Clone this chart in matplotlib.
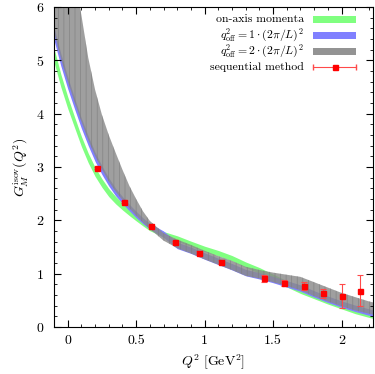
import matplotlib
matplotlib.use("Agg")
import matplotlib.pyplot as plt
from matplotlib.patches import Rectangle
from matplotlib.lines import Line2D

plt.rcParams['font.family'] = 'serif'
plt.rcParams['font.serif'] = ['cmr10', 'DejaVu Serif']
plt.rcParams['mathtext.fontset'] = 'cm'
plt.rcParams['axes.formatter.use_mathtext'] = True
plt.rcParams['hatch.linewidth'] = 0.5

# Q^2 nodes for the fit bands
q2 = [-0.1, -0.05, 0.0, 0.05, 0.1, 0.15, 0.2, 0.25, 0.3, 0.35, 0.4, 0.45, 0.5, 0.55,
      0.6, 0.7, 0.8, 0.9, 1.0, 1.1, 1.2, 1.3, 1.4, 1.5, 1.6, 1.7, 1.8, 1.9, 2.0,
      2.1, 2.2, 2.25]

# on-axis momenta (centre, half width)
green_c = [5.10, 4.62, 4.21, 3.84, 3.48, 3.17, 2.91, 2.70, 2.52, 2.38, 2.26, 2.15, 2.05, 1.95,
           1.86, 1.74, 1.66, 1.56, 1.465, 1.385, 1.29, 1.17, 1.06, 0.93, 0.81, 0.69, 0.59, 0.49, 0.40,
           0.31, 0.24, 0.21]
green_w = [0.13, 0.12, 0.11, 0.10, 0.095, 0.09, 0.085, 0.08, 0.075, 0.07, 0.065, 0.06, 0.06, 0.055,
           0.055, 0.05, 0.05, 0.05, 0.05, 0.05, 0.05, 0.05, 0.055, 0.06, 0.06, 0.06, 0.06, 0.06, 0.06,
           0.06, 0.06, 0.06]

# q_off^2 = 1 (centre, half width)
blue_c = [5.50, 5.01, 4.58, 4.19, 3.82, 3.49, 3.19, 2.94, 2.72, 2.53, 2.38, 2.24, 2.11, 1.99,
          1.89, 1.74, 1.53, 1.44, 1.33, 1.23, 1.13, 1.02, 0.96, 0.89, 0.81, 0.73, 0.62, 0.52, 0.43,
          0.35, 0.28, 0.25]
blue_w = [0.12, 0.115, 0.11, 0.10, 0.095, 0.09, 0.085, 0.08, 0.075, 0.07, 0.065, 0.06, 0.06, 0.055,
          0.055, 0.06, 0.06, 0.06, 0.06, 0.06, 0.06, 0.06, 0.06, 0.06, 0.06, 0.06, 0.06, 0.06, 0.06,
          0.06, 0.06, 0.06]

# q_off^2 = 2 (lower, upper)
gray_lo = [5.53, 5.04, 4.61, 4.22, 3.85, 3.51, 3.21, 2.96, 2.73, 2.54, 2.38, 2.23, 2.09, 1.96,
           1.84, 1.62, 1.48, 1.38, 1.27, 1.17, 1.07, 0.96, 0.91, 0.84, 0.77, 0.69, 0.58, 0.48, 0.39,
           0.31, 0.25, 0.22]
gray_hi = [9.0, 8.1, 7.3, 6.6, 5.85, 5.05, 4.45, 3.98, 3.60, 3.27, 2.95, 2.65, 2.40, 2.17,
           1.99, 1.76, 1.64, 1.54, 1.43, 1.33, 1.24, 1.13, 1.07, 1.02, 0.98, 0.94, 0.84, 0.74, 0.64,
           0.56, 0.48, 0.45]

# sequential method
seq_q2 = [0.211, 0.414, 0.605, 0.784, 0.958, 1.12, 1.436, 1.583, 1.726, 1.865, 2.0, 2.132]
seq_g = [2.98, 2.35, 1.90, 1.59, 1.39, 1.22, 0.91, 0.83, 0.77, 0.63, 0.58, 0.68]
seq_err = [0.02, 0.02, 0.02, 0.02, 0.03, 0.03, 0.07, 0.06, 0.08, 0.09, 0.22, 0.29]

labels = ['on-axis momenta', r'$q^2_{\rm off} = 1\cdot(2\pi/L)^2$',
          r'$q^2_{\rm off} = 2\cdot(2\pi/L)^2$', 'sequential method']
colors = ['#80ff80', '#8080ff', '#808080']

fig = plt.figure(figsize=(3.75, 3.74), dpi=100)
ax = fig.add_axes([54 / 375, 1 - 327 / 374, 319 / 375, 320 / 374])

ax.fill_between(q2, [c - w for c, w in zip(green_c, green_w)],
                [c + w for c, w in zip(green_c, green_w)], color=colors[0], lw=0)
ax.fill_between(q2, [c - w for c, w in zip(blue_c, blue_w)],
                [c + w for c, w in zip(blue_c, blue_w)], color=colors[1], lw=0)
ax.fill_between(q2, gray_lo, gray_hi, facecolor='#8a8a8a', edgecolor='#7e7e7e',
                hatch='|||', alpha=0.82, lw=0)

ax.errorbar(seq_q2, seq_g, yerr=seq_err, fmt='s', color='#ff0000', ms=3.6,
            ecolor='#ff4a4a', elinewidth=0.8, capsize=2, capthick=0.8, zorder=5)

ax.set_xlim(-0.1, 2.23)
ax.set_ylim(0, 6)
ax.set_xticks([0, 0.5, 1, 1.5, 2])
ax.set_xticklabels(['0', '0.5', '1', '1.5', '2'])
ax.set_xticks([i / 10 for i in range(-1, 23)], minor=True)
ax.set_yticks(range(7))
ax.set_yticks([i / 5 for i in range(31)], minor=True)
ax.tick_params(which='both', direction='in', top=True, right=True, labelsize=10)
ax.tick_params(which='major', length=5, width=0.8)
ax.tick_params(which='minor', length=2.5, width=0.6)
ax.tick_params(axis='y', pad=7)
ax.tick_params(axis='x', pad=6)
ax.set_xlabel(r'$Q^2\ [{\rm GeV}^2]$', fontsize=10, labelpad=4)
ax.set_ylabel(r'$G_M^{\rm isov}(Q^2)$', fontsize=10, labelpad=4)

# gnuplot-style legend: text right aligned, key on the right
rows = [19.5, 35, 51, 66.5]
for i, (lab, y) in enumerate(zip(labels, rows)):
    yf = 1 - (y - 7) / 320
    ax.text((304 - 54) / 319, yf, lab, transform=ax.transAxes, ha='right', va='center', fontsize=8.5)
    if i < 3:
        ax.add_patch(Rectangle(((313 - 54) / 319, yf - 3.5 / 320), 43 / 319, 7 / 320,
                               transform=ax.transAxes, color=colors[i],
                               alpha=0.85 if i == 2 else 1, lw=0))
    else:
        ax.add_line(Line2D([(313 - 54) / 319, (356 - 54) / 319], [yf, yf], transform=ax.transAxes,
                           color='#ff4a4a', lw=0.8, marker='|', ms=4, markevery=[0, 1]))
        ax.add_line(Line2D([(334.5 - 54) / 319], [yf], transform=ax.transAxes,
                           color='#ff0000', marker='s', ms=3.6, lw=0))

fig.savefig('out.png', dpi=100)
